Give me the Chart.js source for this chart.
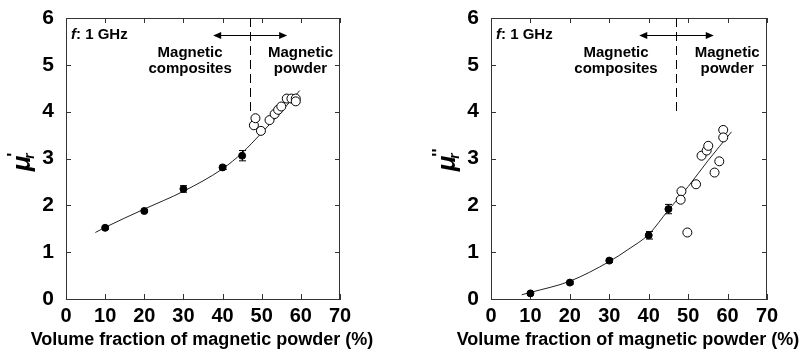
<!DOCTYPE html>
<html>
<head>
<meta charset="utf-8">
<script src="https://cdn.jsdelivr.net/npm/chart.js@4.4.1/dist/chart.umd.min.js"></script>
<style>
  html, body { margin: 0; padding: 0; background: #fff; }
  #wrap { position: relative; width: 803px; height: 354px; }
  .panel { position: absolute; top: 0; }
</style>
</head>
<body>
<div id="wrap">
  <div class="panel" style="left:0px"><canvas id="c1" width="400" height="354"></canvas></div>
  <div class="panel" style="left:400px"><canvas id="c2" width="403" height="354"></canvas></div>
</div>
<script>
// --- Data ---
const xTickStep = 10;
const yTickStep = 1;
const xTitle = 'Volume fraction of magnetic powder (%)';

// real part (left)
const fillX1 = [10, 20, 30, 40, 45];
const fillY1 = [1.52, 1.88, 2.35, 2.81, 3.06];
const fillErr1 = [0.03, 0.03, 0.07, 0.04, 0.11];
const openX1 = [48.0, 48.4, 49.8, 52.0, 53.3, 54.2, 55.0, 56.4, 57.6, 58.7, 58.7];
const openY1 = [3.71, 3.86, 3.59, 3.82, 3.95, 4.04, 4.11, 4.28, 4.28, 4.28, 4.22];
const fitX1 = [7.5, 10, 20, 30, 40, 45, 50, 55, 59.7];
const fitY1 = [1.42, 1.53, 1.92, 2.30, 2.78, 3.12, 3.55, 4.00, 4.45];

// imaginary part (right)
const fillX2 = [10, 20, 30, 40, 45];
const fillY2 = [0.12, 0.35, 0.82, 1.36, 1.92];
const fillErr2 = [0.03, 0.03, 0.04, 0.08, 0.10];
const openX2 = [48.3, 48.1, 49.8, 52.0, 53.4, 54.7, 55.1, 56.7, 57.9, 58.9, 58.9];
const openY2 = [2.30, 2.12, 1.42, 2.45, 3.06, 3.17, 3.27, 2.70, 2.94, 3.61, 3.45];
const fitX2 = [7.8, 10, 20, 30, 35, 40, 45, 50, 55, 61];
const fitY2 = [0.09, 0.14, 0.38, 0.80, 1.07, 1.38, 1.90, 2.40, 2.95, 3.57];

// annotation values (data units)
const boundaryX = 47;
const boundaryY = [4, 6];
const arrowX = [37.6, 56.5];
const arrowY = 5.64;
const freqLabel = ['f', ': 1 GHz'];
const regionLabels = [
  { lines: ['Magnetic', 'composites'], x: 31.7 },
  { lines: ['Magnetic', 'powder'], x: 59.9 }
];
const regionLineY = [5.25, 4.91];

const FONT = '"Liberation Sans", Arial, sans-serif';
const AXIS = '#333';

const pts = (xs, ys) => xs.map((x, i) => ({ x: x, y: ys[i] }));

// --- Frame, inward ticks, error bars, annotations ---
const decor = {
  id: 'decor',
  beforeDatasetsDraw(chart, args, opts) {
    const ctx = chart.ctx;
    const a = chart.chartArea;
    const xs = chart.scales.x, ys = chart.scales.y;
    ctx.save();
    ctx.strokeStyle = AXIS;
    ctx.lineWidth = 1;
    ctx.beginPath();
    ctx.moveTo(a.left, a.top + 0.5); ctx.lineTo(a.right, a.top + 0.5);
    ctx.moveTo(a.right - 0.5, a.top); ctx.lineTo(a.right - 0.5, a.bottom);
    // inward ticks on all four sides
    xs.ticks.forEach(t => {
      const px = Math.round(xs.getPixelForValue(t.value)) + 0.5;
      ctx.moveTo(px, a.bottom); ctx.lineTo(px, a.bottom - 5);
      ctx.moveTo(px, a.top); ctx.lineTo(px, a.top + 5);
    });
    ys.ticks.forEach(t => {
      const py = Math.round(ys.getPixelForValue(t.value)) + 0.5;
      ctx.moveTo(a.left, py); ctx.lineTo(a.left + 5, py);
      ctx.moveTo(a.right, py); ctx.lineTo(a.right - 5, py);
    });
    ctx.stroke();

    // error bars
    ctx.strokeStyle = '#000';
    ctx.beginPath();
    opts.errX.forEach((x, i) => {
      const px = Math.round(xs.getPixelForValue(x)) + 0.5;
      const top = ys.getPixelForValue(opts.errY[i] + opts.err[i]);
      const bot = ys.getPixelForValue(opts.errY[i] - opts.err[i]);
      ctx.moveTo(px, top); ctx.lineTo(px, bot);
      ctx.moveTo(px - 3.5, top); ctx.lineTo(px + 3.5, top);
      ctx.moveTo(px - 3.5, bot); ctx.lineTo(px + 3.5, bot);
    });
    ctx.stroke();
    ctx.restore();
  },
  afterDatasetsDraw(chart, args, opts) {
    const ctx = chart.ctx;
    const xs = chart.scales.x, ys = chart.scales.y;
    const a = chart.chartArea;
    ctx.save();
    ctx.strokeStyle = '#000';
    ctx.fillStyle = '#000';
    ctx.lineWidth = 1;

    // dashed boundary
    const bx = Math.round(xs.getPixelForValue(boundaryX)) + 0.5;
    ctx.setLineDash([9, 5]);
    ctx.beginPath();
    ctx.moveTo(bx, ys.getPixelForValue(boundaryY[1]));
    ctx.lineTo(bx, ys.getPixelForValue(boundaryY[0]));
    ctx.stroke();
    ctx.setLineDash([]);

    // double arrow
    const ay = Math.round(ys.getPixelForValue(arrowY)) + 0.5;
    const ax0 = xs.getPixelForValue(arrowX[0]), ax1 = xs.getPixelForValue(arrowX[1]);
    ctx.beginPath();
    ctx.moveTo(ax0 + 4, ay); ctx.lineTo(ax1 - 4, ay);
    ctx.stroke();
    ctx.beginPath();
    ctx.moveTo(ax0, ay); ctx.lineTo(ax0 + 8, ay - 3.5); ctx.lineTo(ax0 + 8, ay + 3.5); ctx.closePath();
    ctx.moveTo(ax1, ay); ctx.lineTo(ax1 - 8, ay - 3.5); ctx.lineTo(ax1 - 8, ay + 3.5); ctx.closePath();
    ctx.fill();

    // frequency label
    ctx.textBaseline = 'middle';
    ctx.textAlign = 'left';
    const fx = a.left + 5, fy = ys.getPixelForValue(arrowY);
    ctx.font = 'italic bold 15px ' + FONT;
    ctx.fillText(freqLabel[0], fx, fy);
    const fw = ctx.measureText(freqLabel[0]).width;
    ctx.font = 'bold 15px ' + FONT;
    ctx.fillText(freqLabel[1], fx + fw, fy);

    // region labels
    ctx.textAlign = 'center';
    ctx.font = 'bold 15px ' + FONT;
    regionLabels.forEach(r => {
      r.lines.forEach((ln, i) => {
        ctx.fillText(ln, xs.getPixelForValue(r.x), ys.getPixelForValue(regionLineY[i]));
      });
    });

    // x-axis title (drawn here so it is not squeezed to the plot width)
    ctx.font = 'bold 18px ' + FONT;
    ctx.fillText(xTitle, (a.left + a.right) / 2 - 1, 340);

    // y-axis title: mu with subscript r and primes, rotated
    ctx.translate(a.left - 44, (a.top + a.bottom) / 2 + 0);
    ctx.rotate(-Math.PI / 2);
    ctx.textAlign = 'left';
    ctx.textBaseline = 'alphabetic';
    ctx.font = 'italic bold 26px ' + FONT;
    const mu = '\u03BC';
    const mw = ctx.measureText(mu).width;
    const total = mw + 10;
    ctx.fillText(mu, -total / 2, 8);
    ctx.font = 'italic bold 14px ' + FONT;
    ctx.fillText('r', -total / 2 + mw - 3, 12);
    ctx.font = 'bold 17px ' + FONT;
    ctx.fillText(opts.prime, -total / 2 + mw - 1, -3);
    ctx.restore();
  }
};

function makeChart(id, fill, err, open, fit, prime, yWidth, padRight) {
  return new Chart(document.getElementById(id), {
    type: 'scatter',
    data: {
      datasets: [
        {
          data: open,
          pointRadius: 4.5,
          pointBackgroundColor: '#fff',
          pointBorderColor: '#000',
          pointBorderWidth: 1
        },
        {
          data: fill,
          pointRadius: 3.5,
          pointBackgroundColor: '#000',
          pointBorderColor: '#000',
          pointBorderWidth: 1
        },
        {
          data: fit,
          showLine: true,
          pointRadius: 0,
          borderColor: '#222',
          borderWidth: 1,
          cubicInterpolationMode: 'monotone'
        }
      ]
    },
    options: {
      responsive: false,
      animation: false,
      devicePixelRatio: 1,
      layout: { padding: { left: 0, right: padRight, top: 18, bottom: 0 } },
      plugins: {
        legend: { display: false },
        tooltip: { enabled: false },
        decor: { errX: fill.map(p => p.x), errY: fill.map(p => p.y), err: err, prime: prime }
      },
      scales: {
        x: {
          type: 'linear', min: 0, max: 70,
          grid: { display: false },
          border: { display: true, color: AXIS, width: 1 },
          ticks: { stepSize: xTickStep, color: '#000', padding: -3, font: { family: FONT, size: 20, weight: 'bold' } },
          afterFit: s => { s.height = 55; }
        },
        y: {
          type: 'linear', min: 0, max: 6,
          grid: { display: false },
          border: { display: true, color: AXIS, width: 1 },
          ticks: { stepSize: yTickStep, color: '#000', padding: 4, font: { family: FONT, size: 21, weight: 'bold' } },
          afterFit: s => { s.width = yWidth; }
        }
      }
    },
    plugins: [decor]
  });
}

makeChart('c1', pts(fillX1, fillY1), fillErr1, pts(openX1, openY1), pts(fitX1, fitY1), "'", 66, 60);
makeChart('c2', pts(fillX2, fillY2), fillErr2, pts(openX2, openY2), pts(fitX2, fitY2), "''", 91, 36);
</script>
</body>
</html>
